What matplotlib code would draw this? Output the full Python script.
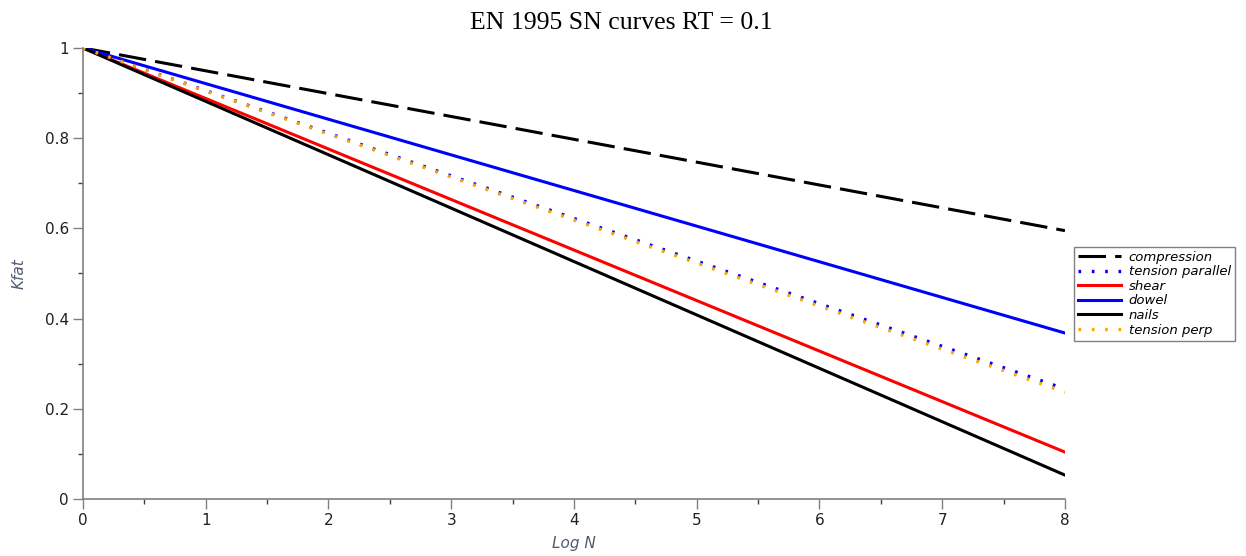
import matplotlib.pyplot as plt
from matplotlib.ticker import MultipleLocator

# Data: straight SN lines, Kfat at log N = 0 and log N = 8
log_n = [0, 8]
compression = [1.0, 0.595]
tension_parallel = [1.0, 0.244]
shear = [1.0, 0.104]
dowel = [1.0, 0.368]
nails = [1.0, 0.053]
tension_perp = [1.0, 0.237]

fig = plt.figure(figsize=(12.46, 5.56), dpi=100)
ax = fig.add_axes([0.0666, 0.1025, 0.7881, 0.8112])

ax.plot(log_n, compression, color='black', lw=2.2, dashes=(9, 3), label='compression')
ax.plot(log_n, tension_parallel, color='blue', lw=2.4, dashes=(0.8, 3.2), label='tension parallel')
ax.plot(log_n, shear, color='red', lw=2.2, label='shear')
ax.plot(log_n, dowel, color='blue', lw=2.2, label='dowel')
ax.plot(log_n, nails, color='black', lw=2.2, label='nails')
ax.plot(log_n, tension_perp, color='orange', lw=2.4, dashes=(0.8, 3.2), label='tension perp')

ax.set_xlim(0, 8)
ax.set_ylim(0, 1)
ax.xaxis.set_major_locator(MultipleLocator(1))
ax.xaxis.set_minor_locator(MultipleLocator(0.5))
ax.yaxis.set_major_locator(MultipleLocator(0.2))
ax.yaxis.set_minor_locator(MultipleLocator(0.1))
ax.set_yticks([0, 0.2, 0.4, 0.6, 0.8, 1.0])
ax.set_yticklabels(['0', '0.2', '0.4', '0.6', '0.8', '1'])

for side in ['top', 'right']:
    ax.spines[side].set_visible(False)
for side in ['left', 'bottom']:
    ax.spines[side].set_color('#808080')
    ax.spines[side].set_linewidth(1.2)
ax.tick_params(which='major', direction='out', length=7, width=1, color='#808080',
               labelsize=11, labelcolor='#202020', pad=3)
ax.tick_params(which='minor', direction='out', length=3.5, width=1, color='#404040')

ax.set_xlabel('Log N', style='italic', fontsize=11, color='#505a70', labelpad=6)
ax.set_ylabel('Kfat', style='italic', fontsize=11, color='#505a70', labelpad=13)
fig.suptitle('EN 1995 SN curves RT = 0.1', family='Liberation Serif', fontsize=18.5,
             x=0.499, y=0.978)

leg = ax.legend(loc='upper left', bbox_to_anchor=(0.857, 0.568), bbox_transform=fig.transFigure,
                frameon=True, fancybox=False, edgecolor='#606060', handlelength=3.2,
                handletextpad=0.6, borderpad=0.3, labelspacing=0.12,
                prop={'style': 'italic', 'size': 9.5})
leg.get_frame().set_linewidth(1.0)

fig.savefig('out.png', dpi=100)
